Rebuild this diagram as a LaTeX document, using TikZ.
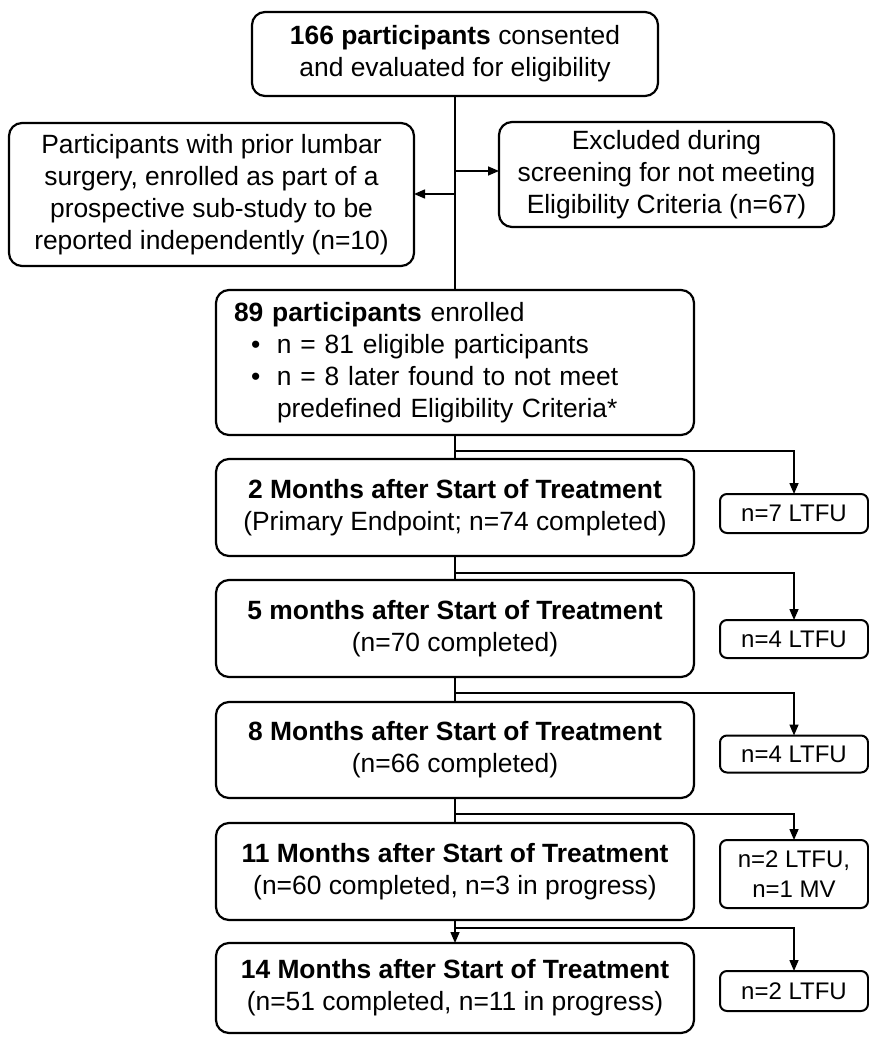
\documentclass[tikz,border=0pt]{standalone}
\usepackage{fontspec}
\setmainfont{Liberation Sans}
\usetikzlibrary{arrows.meta,calc}
\begin{document}
\begin{tikzpicture}[x=1pt,y=-1pt,
  box/.style={draw=black,line width=2.2pt,rounded corners=13pt,inner sep=0pt,outer sep=0pt,
    font=\fontsize{26.4}{32}\selectfont,align=center},
  sbox/.style={draw=black,line width=2pt,rounded corners=7pt,inner sep=0pt,outer sep=0pt,
    font=\fontsize{24}{30}\selectfont,align=center,minimum width=148pt},
  conn/.style={line width=1.5pt,draw=black},
  arr/.style={conn,-{Triangle[length=11pt,width=9pt]}}]
\useasboundingbox (0,0) rectangle (869,1038);
\fill[white] (0,0) rectangle (869,1038);

\node[box,minimum width=406pt,minimum height=84pt] (top) at (455,54)
  {\textbf{166 participants} consented\\and evaluated for eligibility};
\node[box,minimum width=405pt,minimum height=143pt] (left) at (211.5,194.5)
  {Participants with prior lumbar\\surgery, enrolled as part of a\\prospective sub-study to be\\reported independently (n=10)};
\node[box,minimum width=335pt,minimum height=105pt] (right) at (666.5,174.5)
  {Excluded during\\screening for not meeting\\Eligibility Criteria (n=67)};
\node[box,minimum width=478pt,minimum height=145pt,text width=442pt,align=left] (enr) at (455,362.5)
  {\textbf{89 participants} enrolled\\
   \hspace*{17pt}\makebox[26pt][l]{\textbullet}n = 81 eligible participants\\
   \hspace*{17pt}\makebox[26pt][l]{\textbullet}n = 8 later found to not meet\\
   \hspace*{43pt}predefined Eligibility Criteria*};
\node[box,minimum width=478pt,minimum height=97pt] (m2) at (455,507.5)
  {\textbf{2 Months after Start of Treatment}\\(Primary Endpoint; n=74 completed)};
\node[box,minimum width=478pt,minimum height=97pt] (m5) at (455,628.5)
  {\textbf{5 months after Start of Treatment}\\(n=70 completed)};
\node[box,minimum width=478pt,minimum height=96pt] (m8) at (455,750)
  {\textbf{8 Months after Start of Treatment}\\(n=66 completed)};
\node[box,minimum width=478pt,minimum height=97pt] (m11) at (455,871.5)
  {\textbf{11 Months after Start of Treatment}\\(n=60 completed, n=3 in progress)};
\node[box,minimum width=478pt,minimum height=90pt] (m14) at (455,988)
  {\textbf{14 Months after Start of Treatment}\\(n=51 completed, n=11 in progress)};

\node[sbox,minimum height=39pt] (l2) at (794,513.5) {n=7 LTFU};
\node[sbox,minimum height=38pt] (l5) at (794,639) {n=4 LTFU};
\node[sbox,minimum height=37pt] (l8) at (794,754) {n=4 LTFU};
\node[sbox,minimum height=68pt] (l11) at (794,874) {n=2 LTFU,\\n=1 MV};
\node[sbox,minimum height=40pt] (l14) at (794,991) {n=2 LTFU};

\coordinate (bR) at (455,171);
\coordinate (bL) at (455,194);
\coordinate (b2) at (455,451);
\coordinate (b5) at (455,573);
\coordinate (b8) at (455,693);
\coordinate (b11) at (455,814);
\coordinate (b14) at (455,928);

\draw[conn] (top.south) -- (enr.north);
\draw[arr] (bR) -- (bR -| right.west);
\draw[arr] (bL) -- (bL -| left.east);

\draw[conn] (enr.south) -- (m2.north);
\draw[conn] (m2.south) -- (m5.north);
\draw[conn] (m5.south) -- (m8.north);
\draw[conn] (m8.south) -- (m11.north);
\draw[arr] (m11.south) -- (m14.north);

\draw[arr] (b2) -- (b2 -| l2.north) -- (l2.north);
\draw[arr] (b5) -- (b5 -| l5.north) -- (l5.north);
\draw[arr] (b8) -- (b8 -| l8.north) -- (l8.north);
\draw[arr] (b11) -- (b11 -| l11.north) -- (l11.north);
\draw[arr] (b14) -- (b14 -| l14.north) -- (l14.north);
\end{tikzpicture}
\end{document}
